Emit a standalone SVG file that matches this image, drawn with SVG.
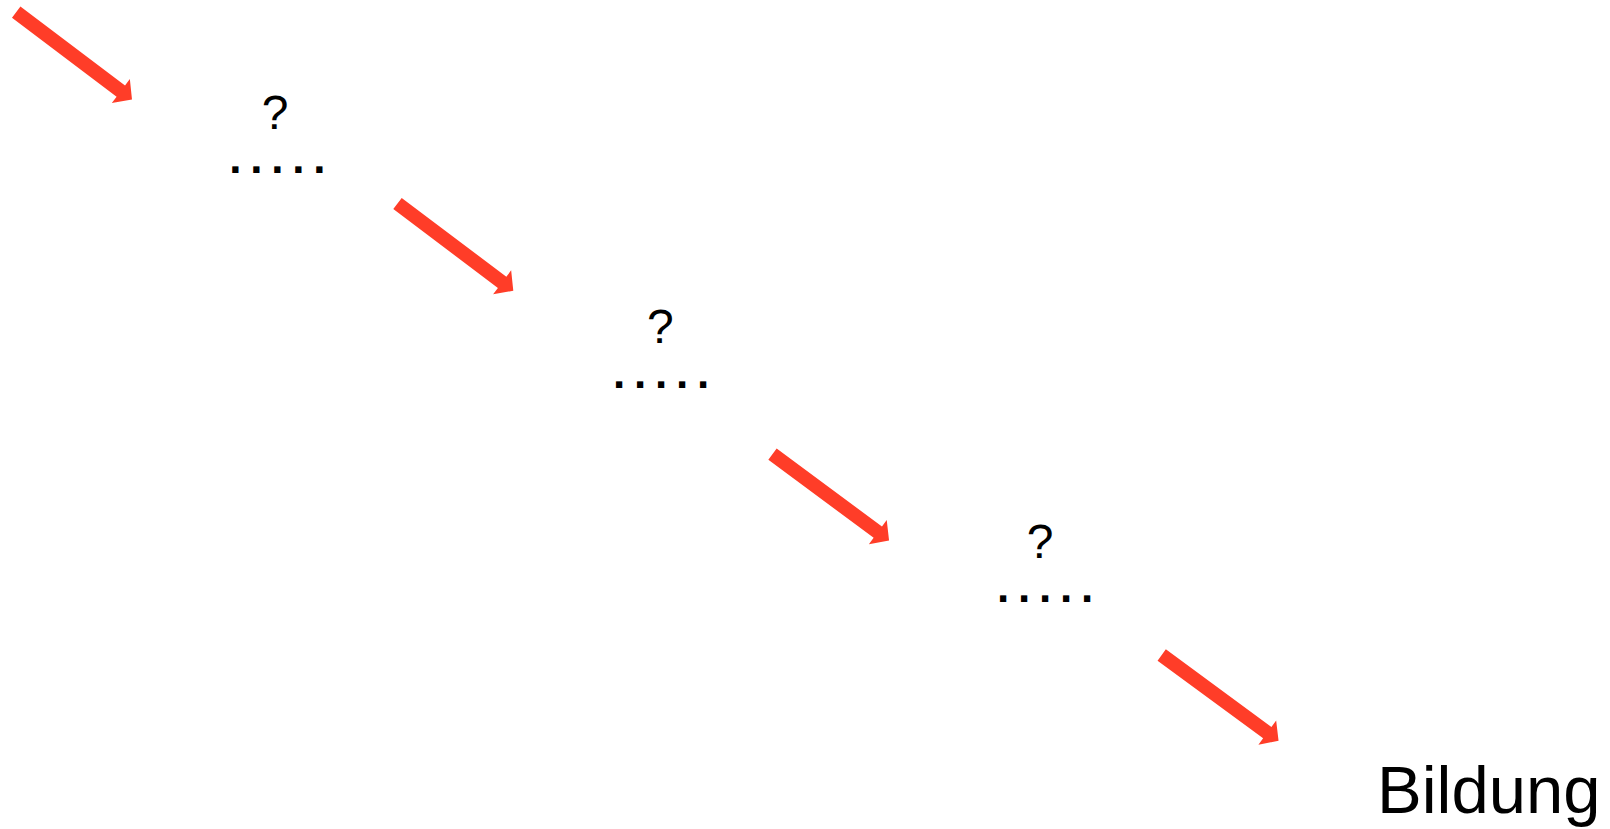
<svg xmlns="http://www.w3.org/2000/svg" xmlns:xlink="http://www.w3.org/1999/xlink" width="1610" height="829" viewBox="0 0 1610 829">
<style>
.arrow{fill:#FF3D28;}
.q{font-family:"Liberation Sans",Arial,sans-serif;font-size:48px;fill:#000;text-anchor:middle;}
.dots{font-family:"Liberation Sans",Arial,sans-serif;font-size:44px;font-weight:bold;fill:#000;letter-spacing:8.8px;}
.big{font-family:"Liberation Sans",Arial,sans-serif;font-size:67px;fill:#000;}
</style>
<defs>
<path id="arr" d="M0,-7 L131,-7 L131,-15 L145,0 L131,15 L131,7 L0,7 Z"/>
</defs>
<rect width="1610" height="829" fill="#fff"/>
<g id="connectors">
<use xlink:href="#arr" class="arrow" transform="translate(16.2,12.2) rotate(37)"/>
<use xlink:href="#arr" class="arrow" transform="translate(397.5,203.5) rotate(37)"/>
<use xlink:href="#arr" class="arrow" transform="translate(772.5,454.2) rotate(36.5)"/>
<use xlink:href="#arr" class="arrow" transform="translate(1161.7,655) rotate(36.3)"/>
</g>
<g id="node1">
<text class="q" x="275" y="128.5">?</text>
<text class="dots" x="229.2" y="173.3">.....</text>
</g>
<g id="node2">
<text class="q" x="660.3" y="343">?</text>
<text class="dots" x="612.9" y="387.8">.....</text>
</g>
<g id="node3">
<text class="q" x="1040.2" y="558">?</text>
<text class="dots" x="996.9" y="601.5">.....</text>
</g>
<g id="node4">
<text class="big" x="1377" y="813">Bildung</text>
</g>
</svg>
